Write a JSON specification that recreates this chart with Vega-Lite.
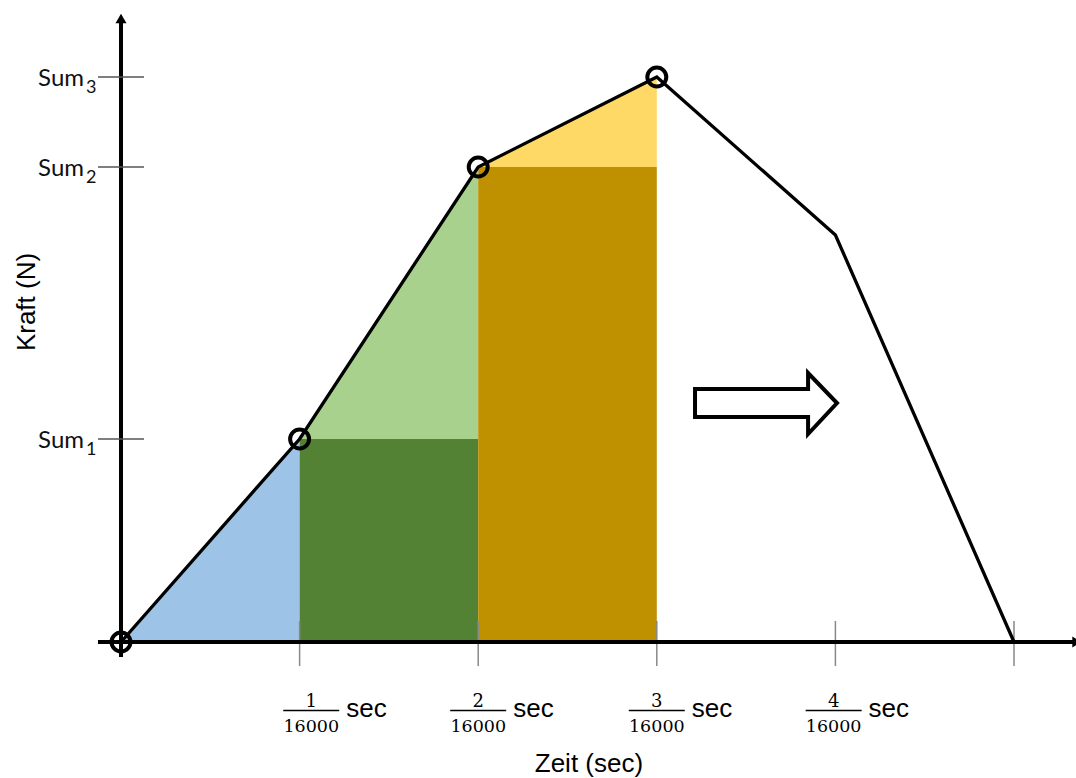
{
  "$schema": "https://vega.github.io/schema/vega-lite/v6.json",
  "width": 1076,
  "height": 778,
  "autosize": {"type": "none"},
  "padding": 0,
  "background": "white",
  "config": {"view": {"stroke": null}},
  "datasets": {
    "fills": [
      {"seg": "A", "t": 0, "top": 0, "bottom": 0},
      {"seg": "A", "t": 1, "top": 203, "bottom": 0},
      {"seg": "B", "t": 1, "top": 203, "bottom": 0},
      {"seg": "B", "t": 2, "top": 203, "bottom": 0},
      {"seg": "C", "t": 1, "top": 203, "bottom": 203},
      {"seg": "C", "t": 2, "top": 475, "bottom": 203},
      {"seg": "D", "t": 2, "top": 475, "bottom": 0},
      {"seg": "D", "t": 3, "top": 475, "bottom": 0},
      {"seg": "E", "t": 2, "top": 475, "bottom": 475},
      {"seg": "E", "t": 3, "top": 565, "bottom": 475}
    ],
    "curve": [
      {"t": 0, "f": 0},
      {"t": 1, "f": 203},
      {"t": 2, "f": 475},
      {"t": 3, "f": 565},
      {"t": 4, "f": 407},
      {"t": 5, "f": 0}
    ],
    "sums": [
      {"sub": "1", "f": 203},
      {"sub": "2", "f": 475},
      {"sub": "3", "f": 565}
    ],
    "ticks": [{"t": 1}, {"t": 2}, {"t": 3}, {"t": 4}, {"t": 5}],
    "tlabels": [
      {"t": 1, "at": 1.065, "num": "1", "den": "16000"},
      {"t": 2, "at": 2.0, "num": "2", "den": "16000"},
      {"t": 3, "at": 3.0, "num": "3", "den": "16000"},
      {"t": 4, "at": 3.99, "num": "4", "den": "16000"}
    ],
    "arrow": [
      {"o": 1, "t": 3.214, "f": 253},
      {"o": 2, "t": 3.847, "f": 253},
      {"o": 3, "t": 3.847, "f": 269},
      {"o": 4, "t": 4.009, "f": 239},
      {"o": 5, "t": 3.847, "f": 208},
      {"o": 6, "t": 3.847, "f": 225},
      {"o": 7, "t": 3.214, "f": 225}
    ]
  },
  "layer": [
    {
      "data": {"name": "fills"},
      "mark": {"type": "area", "opacity": 1, "interpolate": "linear"},
      "encoding": {
        "x": {"field": "t", "type": "quantitative", "scale": {"domain": [-0.6775, 5.3471], "nice": false, "zero": false}, "axis": null},
        "y": {"field": "top", "type": "quantitative", "stack": null, "scale": {"domain": [-136, 642], "nice": false, "zero": false}, "axis": null},
        "y2": {"field": "bottom"},
        "color": {"field": "seg", "type": "nominal", "scale": {"domain": ["A", "B", "C", "D", "E"], "range": ["#9DC3E6", "#548235", "#A9D18E", "#BF9000", "#FFD966"]}, "legend": null}
      }
    },
    {
      "data": {"name": "ticks"},
      "mark": {"type": "rule", "color": "#888888", "strokeWidth": 1.5},
      "encoding": {
        "x": {"field": "t", "type": "quantitative", "scale": {"domain": [-0.6775, 5.3471], "nice": false, "zero": false}, "axis": null},
        "y": {"datum": 21, "type": "quantitative", "scale": {"domain": [-136, 642], "nice": false, "zero": false}, "axis": null},
        "y2": {"datum": -24}
      }
    },
    {
      "data": {"name": "curve"},
      "mark": {"type": "line", "color": "black", "strokeWidth": 3.3, "strokeJoin": "miter"},
      "encoding": {
        "x": {"field": "t", "type": "quantitative", "scale": {"domain": [-0.6775, 5.3471], "nice": false, "zero": false}, "axis": null},
        "y": {"field": "f", "type": "quantitative", "scale": {"domain": [-136, 642], "nice": false, "zero": false}, "axis": null}
      }
    },
    {
      "data": {"values": [{}]},
      "mark": {"type": "rule", "color": "black", "strokeWidth": 4},
      "encoding": {
        "x": {"datum": 0, "type": "quantitative", "scale": {"domain": [-0.6775, 5.3471], "nice": false, "zero": false}, "axis": null},
        "y": {"datum": -15, "type": "quantitative", "scale": {"domain": [-136, 642], "nice": false, "zero": false}, "axis": null},
        "y2": {"datum": 620}
      }
    },
    {
      "data": {"values": [{}]},
      "mark": {"type": "rule", "color": "black", "strokeWidth": 4},
      "encoding": {
        "x": {"datum": -0.129, "type": "quantitative", "scale": {"domain": [-0.6775, 5.3471], "nice": false, "zero": false}, "axis": null},
        "x2": {"datum": 5.36},
        "y": {"datum": 0, "type": "quantitative", "scale": {"domain": [-136, 642], "nice": false, "zero": false}, "axis": null}
      }
    },
    {
      "data": {"values": [{}]},
      "mark": {"type": "point", "shape": "triangle-up", "filled": true, "color": "black", "opacity": 1, "size": 121},
      "encoding": {
        "x": {"datum": 0, "type": "quantitative", "scale": {"domain": [-0.6775, 5.3471], "nice": false, "zero": false}, "axis": null},
        "y": {"datum": 623.6, "type": "quantitative", "scale": {"domain": [-136, 642], "nice": false, "zero": false}, "axis": null}
      }
    },
    {
      "data": {"values": [{}]},
      "mark": {"type": "point", "shape": "triangle-right", "filled": true, "color": "black", "opacity": 1, "size": 121},
      "encoding": {
        "x": {"datum": 5.353, "type": "quantitative", "scale": {"domain": [-0.6775, 5.3471], "nice": false, "zero": false}, "axis": null},
        "y": {"datum": 0, "type": "quantitative", "scale": {"domain": [-136, 642], "nice": false, "zero": false}, "axis": null}
      }
    },
    {
      "data": {"name": "curve"},
      "transform": [{"filter": "datum.t <= 3"}],
      "mark": {"type": "point", "shape": "circle", "filled": false, "color": "black", "opacity": 1, "size": 360, "strokeWidth": 4},
      "encoding": {
        "x": {"field": "t", "type": "quantitative", "scale": {"domain": [-0.6775, 5.3471], "nice": false, "zero": false}, "axis": null},
        "y": {"field": "f", "type": "quantitative", "scale": {"domain": [-136, 642], "nice": false, "zero": false}, "axis": null}
      }
    },
    {
      "data": {"name": "sums"},
      "mark": {"type": "rule", "color": "#555555", "strokeWidth": 1.3},
      "encoding": {
        "x": {"datum": -0.129, "type": "quantitative", "scale": {"domain": [-0.6775, 5.3471], "nice": false, "zero": false}, "axis": null},
        "x2": {"datum": 0.129},
        "y": {"field": "f", "type": "quantitative", "scale": {"domain": [-136, 642], "nice": false, "zero": false}, "axis": null}
      }
    },
    {
      "data": {"name": "sums"},
      "mark": {"type": "text", "text": "Sum", "font": "Lato", "fontSize": 24, "align": "right", "baseline": "alphabetic", "dx": -37, "dy": 9, "color": "#111111"},
      "encoding": {
        "x": {"datum": 0, "type": "quantitative", "scale": {"domain": [-0.6775, 5.3471], "nice": false, "zero": false}, "axis": null},
        "y": {"field": "f", "type": "quantitative", "scale": {"domain": [-136, 642], "nice": false, "zero": false}, "axis": null}
      }
    },
    {
      "data": {"name": "sums"},
      "mark": {"type": "text", "font": "Lato", "fontSize": 18, "align": "left", "baseline": "alphabetic", "dx": -35, "dy": 16, "color": "#111111"},
      "encoding": {
        "x": {"datum": 0, "type": "quantitative", "scale": {"domain": [-0.6775, 5.3471], "nice": false, "zero": false}, "axis": null},
        "y": {"field": "f", "type": "quantitative", "scale": {"domain": [-136, 642], "nice": false, "zero": false}, "axis": null},
        "text": {"field": "sub"}
      }
    },
    {
      "data": {"name": "tlabels"},
      "mark": {"type": "text", "font": "DejaVu Serif", "fontSize": 18, "align": "center", "baseline": "alphabetic", "color": "black"},
      "encoding": {
        "x": {"field": "at", "type": "quantitative", "scale": {"domain": [-0.6775, 5.3471], "nice": false, "zero": false}, "axis": null},
        "y": {"datum": -65, "type": "quantitative", "scale": {"domain": [-136, 642], "nice": false, "zero": false}, "axis": null},
        "text": {"field": "num"}
      }
    },
    {
      "data": {"name": "tlabels"},
      "mark": {"type": "text", "font": "DejaVu Serif", "fontSize": 17.5, "align": "center", "baseline": "alphabetic", "color": "black"},
      "encoding": {
        "x": {"field": "at", "type": "quantitative", "scale": {"domain": [-0.6775, 5.3471], "nice": false, "zero": false}, "axis": null},
        "y": {"datum": -90, "type": "quantitative", "scale": {"domain": [-136, 642], "nice": false, "zero": false}, "axis": null},
        "text": {"field": "den"}
      }
    },
    {
      "data": {"name": "tlabels"},
      "mark": {"type": "rule", "color": "black", "strokeWidth": 1.5, "xOffset": -28, "x2Offset": 28},
      "encoding": {
        "x": {"field": "at", "type": "quantitative", "scale": {"domain": [-0.6775, 5.3471], "nice": false, "zero": false}, "axis": null},
        "x2": {"field": "at"},
        "y": {"datum": -68.5, "type": "quantitative", "scale": {"domain": [-136, 642], "nice": false, "zero": false}, "axis": null}
      }
    },
    {
      "data": {"name": "tlabels"},
      "mark": {"type": "text", "text": "sec", "font": "Liberation Sans", "fontSize": 26, "align": "left", "baseline": "alphabetic", "dx": 35, "color": "black"},
      "encoding": {
        "x": {"field": "at", "type": "quantitative", "scale": {"domain": [-0.6775, 5.3471], "nice": false, "zero": false}, "axis": null},
        "y": {"datum": -75, "type": "quantitative", "scale": {"domain": [-136, 642], "nice": false, "zero": false}, "axis": null}
      }
    },
    {
      "data": {"values": [{"title": "Zeit (sec)"}]},
      "mark": {"type": "text", "font": "Liberation Sans", "fontSize": 26, "align": "center", "baseline": "alphabetic", "color": "black"},
      "encoding": {
        "x": {"datum": 2.62, "type": "quantitative", "scale": {"domain": [-0.6775, 5.3471], "nice": false, "zero": false}, "axis": null},
        "y": {"datum": -130, "type": "quantitative", "scale": {"domain": [-136, 642], "nice": false, "zero": false}, "axis": null},
        "text": {"field": "title"}
      }
    },
    {
      "data": {"values": [{"title": "Kraft (N)"}]},
      "mark": {"type": "text", "font": "Liberation Sans", "fontSize": 26, "align": "center", "baseline": "middle", "angle": 270, "color": "black"},
      "encoding": {
        "x": {"datum": -0.526, "type": "quantitative", "scale": {"domain": [-0.6775, 5.3471], "nice": false, "zero": false}, "axis": null},
        "y": {"datum": 340, "type": "quantitative", "scale": {"domain": [-136, 642], "nice": false, "zero": false}, "axis": null},
        "text": {"field": "title"}
      }
    },
    {
      "data": {"name": "arrow"},
      "mark": {"type": "line", "color": "black", "strokeWidth": 4, "interpolate": "linear-closed", "strokeJoin": "miter"},
      "encoding": {
        "x": {"field": "t", "type": "quantitative", "scale": {"domain": [-0.6775, 5.3471], "nice": false, "zero": false}, "axis": null},
        "y": {"field": "f", "type": "quantitative", "scale": {"domain": [-136, 642], "nice": false, "zero": false}, "axis": null},
        "order": {"field": "o", "type": "quantitative"}
      }
    }
  ]
}
